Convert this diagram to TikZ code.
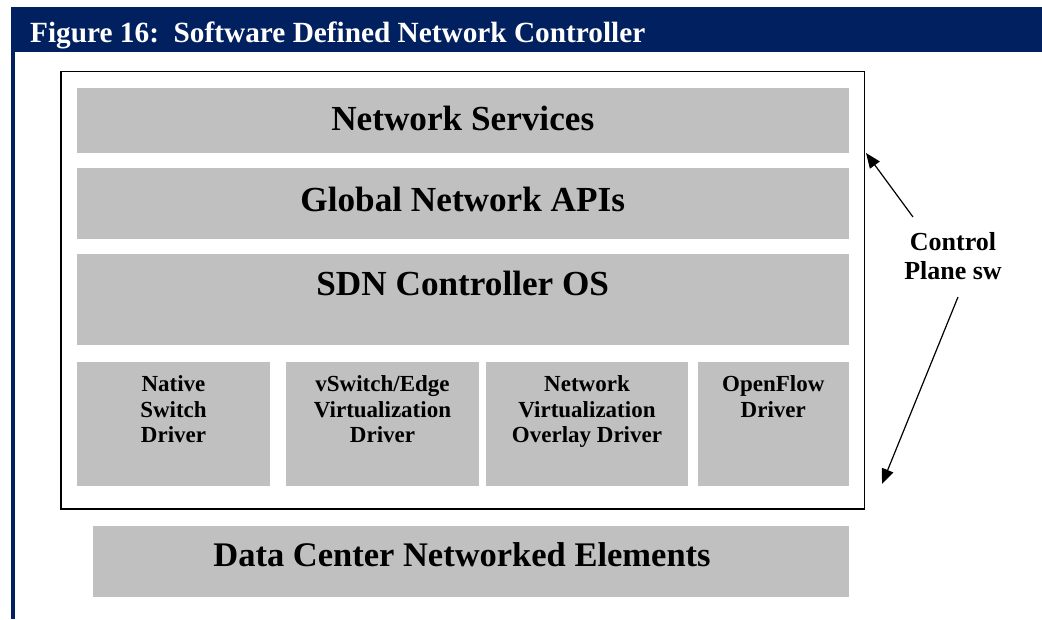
\documentclass[tikz,border=0pt]{standalone}
\usepackage{fontspec}
\setmainfont{Liberation Serif}
\usetikzlibrary{arrows.meta}
\definecolor{navy}{HTML}{002060}
\definecolor{boxgray}{HTML}{C0C0C0}
\tikzset{
  graybox/.style={fill=boxgray, draw=none, inner sep=0pt},
  bigtxt/.style={font=\fontsize{35.2}{40}\selectfont\bfseries, inner sep=0pt, anchor=base},
  drvtxt/.style={font=\fontsize{23}{25.7}\selectfont\bfseries, inner sep=0pt, align=center, anchor=north},
  ptr/.style={-{Triangle[length=15pt,width=12pt]}, line width=1.2pt}
}
\begin{document}
\begin{tikzpicture}[x=1pt,y=-1pt]
\useasboundingbox[fill=white] (0,0) rectangle (1042,619);
% header bar and left rule
\fill[navy] (11,7) rectangle (1042,52);
\fill[navy] (11,52) rectangle (15,619);
\node[font=\fontsize{29.3}{33}\selectfont\bfseries, text=white, inner sep=0pt, anchor=base west] (title) at (30,42.7) {Figure 16:\ \ Software Defined Network Controller};
% frame
\draw[line width=1.5pt] (61,71.5) rectangle (864.5,509);
% layers
\fill[graybox] (77,87.5) rectangle (848.5,152.5);
\node[bigtxt] (ns) at (462.75,130.7) {Network Services};
\fill[graybox] (77,168) rectangle (848.5,238.5);
\node[bigtxt] (api) at (462.75,211.7) {Global Network APIs};
\fill[graybox] (77,254) rectangle (848.5,344.5);
\node[bigtxt] (os) at (462.75,295.7) {SDN Controller OS};
% drivers
\fill[graybox] (77,362) rectangle (270,485.5);
\node[drvtxt] (d1) at (173.5,375.4) {Native\\Switch\\Driver};
\fill[graybox] (286,362) rectangle (479,485.5);
\node[drvtxt] (d2) at (382.5,375.4) {vSwitch/Edge\\Virtualization\\Driver};
\fill[graybox] (486,362) rectangle (688,485.5);
\node[drvtxt] (d3) at (587,375.4) {Network\\Virtualization\\Overlay Driver};
\fill[graybox] (698,362) rectangle (848.5,485.5);
\node[drvtxt] (d4) at (773.25,375.4) {OpenFlow\\Driver};
% data center
\fill[graybox] (93,525.7) rectangle (848.5,596.7);
\node[bigtxt, font=\fontsize{34.5}{40}\selectfont\bfseries] (dc) at (462,566.7) {Data Center Networked Elements};
% control plane label and arrows
\node[font=\fontsize{26}{29}\selectfont\bfseries, inner sep=0pt, align=center, anchor=north] (cp) at (953,232.4) {Control\\Plane sw};
\coordinate (t1) at (913,217);
\coordinate (h1) at (866,153);
\coordinate (t2) at (958,297);
\coordinate (h2) at (882,484);
\draw[ptr] (t1) -- (h1);
\draw[ptr] (t2) -- (h2);
\end{tikzpicture}
\end{document}
